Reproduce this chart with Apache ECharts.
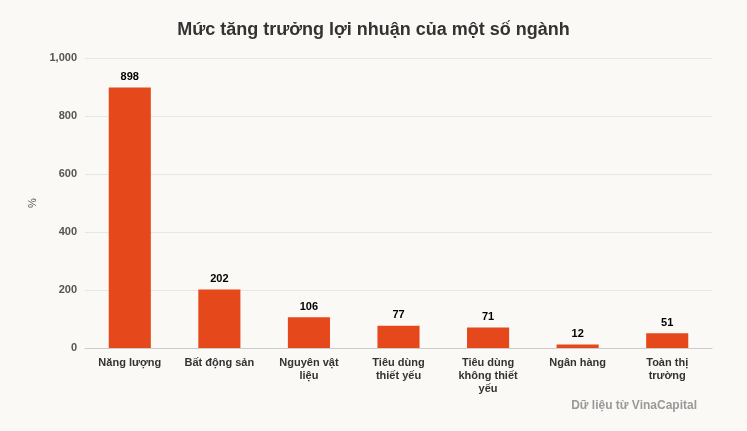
<!DOCTYPE html>
<html><head><meta charset="utf-8">
<script src="https://cdn.jsdelivr.net/npm/echarts@6/dist/echarts.min.js"></script>
<style>html,body{margin:0;padding:0;background:#faf9f6}#c{width:747px;height:431px}</style>
</head><body><div id="c"></div>
<script>
const categories = ["Năng lượng","Bất động sản","Nguyên vật\nliệu","Tiêu dùng\nthiết yếu","Tiêu dùng\nkhông thiết\nyếu","Ngân hàng","Toàn thị\ntrường"];
const values = [898,202,106,77,71,12,51];
const yTicks = [0,200,400,600,800,1000];
const chart = echarts.init(document.getElementById('c'));
chart.setOption({
  backgroundColor:'#faf9f6',
  textStyle:{fontFamily:'Liberation Sans, Arial, sans-serif'},
  title:[{text:'Mức tăng trưởng lợi nhuận của một số ngành',left:'center',top:16,textStyle:{fontSize:18,fontWeight:'bold',color:'#333'}},
         {text:'Dữ liệu từ VinaCapital',right:45,top:395,textStyle:{fontSize:12,fontWeight:'bold',color:'#999'}}],
  grid:{left:85,right:35,top:58,bottom:83},
  xAxis:{type:'category',data:categories,axisTick:{show:false},axisLine:{lineStyle:{color:'#ccc'}},
    axisLabel:{color:'#333',fontSize:11,fontWeight:'bold',interval:0,lineHeight:13,margin:8}},
  yAxis:{type:'value',min:yTicks[0],max:yTicks[yTicks.length-1],interval:200,name:'%',nameLocation:'middle',nameGap:40,
    nameTextStyle:{color:'#555',fontSize:11},
    axisLabel:{color:'#555',fontSize:11,fontWeight:'bold'},splitLine:{lineStyle:{color:'#e6e6e6'}}},
  series:[{type:'bar',data:values,barWidth:'47%',itemStyle:{color:'#e5491b'},
    label:{show:true,position:'top',color:'#000',fontSize:11,fontWeight:'bold'}}]
});
</script></body></html>
